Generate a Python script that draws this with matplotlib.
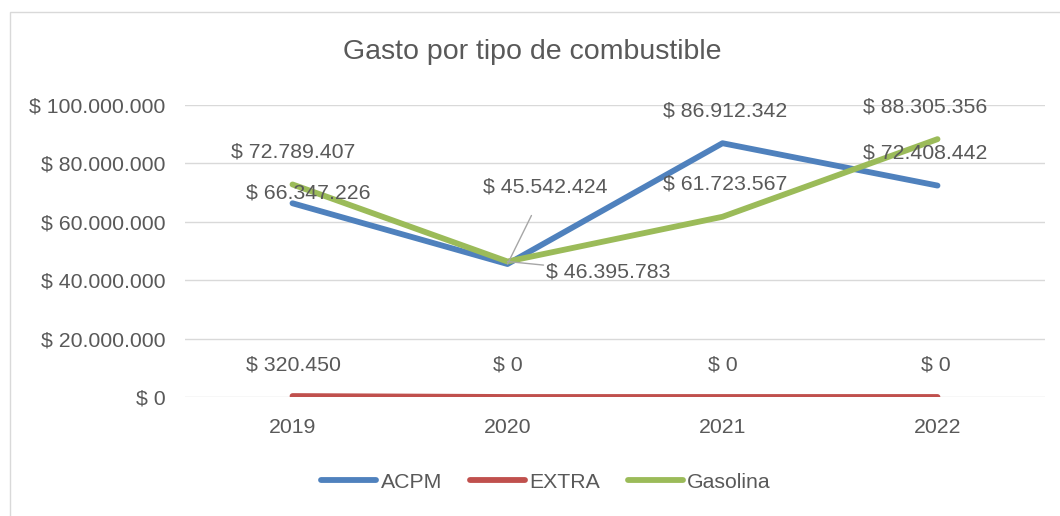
import matplotlib.pyplot as plt
from matplotlib.patches import Rectangle

# Data
years = ['2019', '2020', '2021', '2022']
acpm = [66347226, 45542424, 86912342, 72408442]
extra = [320450, 0, 0, 0]
gasolina = [72789407, 46395783, 61723567, 88305356]

# label offsets in pixels (dx, dy) per point
acpm_off = [(16, 10), (38, 77), (3, 32), (-12, 33)]
gas_off = [(1, 32), (101, -10), (3, 33), (-12, 32)]
extra_off = [(1, 31), (0, 32), (0, 32), (-2, 32)]

plt.rcParams['font.family'] = ['Liberation Sans', 'DejaVu Sans']
txt = '#595959'
fs = 15.3


def money(v):
    return '$ ' + f'{int(v):,}'.replace(',', '.')


fig = plt.figure(figsize=(10.6, 5.16), dpi=100)
ax = fig.add_axes([185 / 1060, 1 - 397 / 516, 860 / 1060, 292 / 516])

# chart frame
fig.patches.append(Rectangle((10 / 1060, -0.01), 1.1, 1 - 12 / 516 + 0.01, transform=fig.transFigure,
                             fill=False, edgecolor='#D9D9D9', linewidth=1))

x = range(len(years))
colors = {'ACPM': '#4F81BD', 'EXTRA': '#C0504D', 'Gasolina': '#9BBB59'}
ax.plot(x, acpm, color=colors['ACPM'], lw=4.2, solid_capstyle='round', label='ACPM', zorder=3)
ax.plot(x, extra, color=colors['EXTRA'], lw=4.2, solid_capstyle='round', label='EXTRA', zorder=3)
ax.plot(x, gasolina, color=colors['Gasolina'], lw=4.2, solid_capstyle='round', label='Gasolina', zorder=4)

ax.set_xlim(-0.5, 3.5)
ax.set_ylim(0, 100000000)
ax.set_yticks(range(0, 100000001, 20000000))
ax.set_yticklabels([money(v) for v in range(0, 100000001, 20000000)])
ax.set_xticks(list(x))
ax.set_xticklabels(years)
ax.tick_params(length=0, labelsize=fs, colors=txt, pad=14)
ax.tick_params(axis='x', pad=15)
ax.grid(axis='y', color='#D9D9D9', lw=1)
ax.set_axisbelow(True)
for s in ax.spines.values():
    s.set_visible(False)


def add_labels(vals, offs):
    for i, (v, o) in enumerate(zip(vals, offs)):
        leader = abs(o[0]) > 30
        ax.annotate(money(v), (i, v), xytext=o, textcoords='offset pixels',
                    ha='center', va='center', fontsize=fs, color=txt, zorder=5,
                    arrowprops=dict(arrowstyle='-', color='#A6A6A6', lw=1, shrinkA=13 if o[1] > 0 else 66,
                                    shrinkB=0) if leader else None)


add_labels(acpm, acpm_off)
add_labels(gasolina, gas_off)
add_labels(extra, extra_off)

fig.text(0.5 + 2 / 1060, 1 - 52 / 516, 'Gasto por tipo de combustible', ha='center', va='center',
         fontsize=20.5, color=txt)

leg = fig.legend(loc='center', bbox_to_anchor=(0.515, 1 - 482 / 516), ncol=3, frameon=False,
                 fontsize=fs, handlelength=2.6, handletextpad=0.2, columnspacing=1.3)
for t in leg.get_texts():
    t.set_color(txt)

plt.savefig('out.png', dpi=100)
